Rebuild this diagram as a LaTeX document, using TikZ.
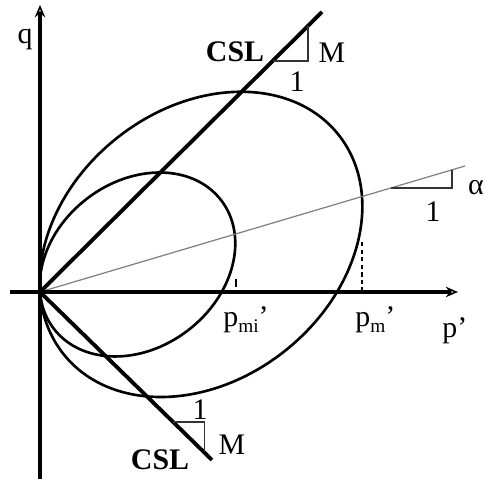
\documentclass[tikz,border=0pt]{standalone}
\usepackage{fontspec}
\setmainfont{Liberation Serif}
\usetikzlibrary{arrows.meta,calc}
\begin{document}
\begin{tikzpicture}[x=0.02cm,y=0.02cm,
  axis/.style={line width=2.4pt, -{Stealth[open,length=7pt,width=6pt,line width=0.9pt]}},
  csl/.style={line width=2.2pt},
  yield/.style={line width=1.5pt},
  aline/.style={line width=0.7pt, gray},
  slope/.style={line width=0.8pt, black!80},
  guide/.style={line width=0.8pt, dash pattern=on 2.5pt off 1.8pt},
  lab/.style={font=\fontsize{17}{17}\selectfont, inner sep=0pt},
  bold/.style={font=\fontsize{17}{17}\selectfont\bfseries, inner sep=0pt}]
\useasboundingbox (-40,-187) rectangle (445,292);
% coordinates
\coordinate (O) at (0,0);
\coordinate (qtop) at (0,287);
\coordinate (qbot) at (0,-187);
\coordinate (pleft) at (-30,0);
\coordinate (pright) at (418,0);
\coordinate (C1) at (282,280);
\coordinate (C2) at (172,-168);
\coordinate (A) at (425,126);
\coordinate (EL) at (161,47.6);
\coordinate (ES) at (97.5,27.5);
% yield surfaces
\draw[yield, rotate around={38.7:(EL)}] (EL) ellipse [x radius=175.9, y radius=135.6];
\draw[yield, rotate around={37.5:(ES)}] (ES) ellipse [x radius=105.5, y radius=83];
% guides
\coordinate (gL1) at (322,50);
\coordinate (gL0) at (322,0);
\draw[guide] (gL1) -- (gL0);
\coordinate (gS1) at (196,13);
\coordinate (gS0) at (196,5);
\draw[line width=0.8pt] (gS1) -- (gS0);
% alpha line
\draw[aline] (O) -- (A);
\coordinate (Ta) at ($(O)!0.825!(A)$);
\coordinate (Tc) at ($(O)!0.969!(A)$);
\coordinate (Tb) at (Tc |- Ta);
\draw[slope] (Ta) -- (Tb) -- (Tc);
% CSL lines
\draw[csl] (O) -- (C1);
\draw[csl] (O) -- (C2);
\coordinate (T1a) at ($(O)!0.825!(C1)$);
\coordinate (T1c) at ($(O)!0.950!(C1)$);
\coordinate (T1b) at (T1c |- T1a);
\draw[slope] (T1a) -- (T1b) -- (T1c);
\coordinate (T2a) at ($(O)!0.774!(C2)$);
\coordinate (T2c) at ($(O)!0.955!(C2)$);
\coordinate (T2b) at (T2c |- T2a);
\draw[slope] (T2a) -- (T2b) -- (T2c);
% axes
\draw[axis] (qbot) -- (qtop);
\draw[axis] (pleft) -- (pright);
% labels
\node[lab] (lq) at (-15,252) {q};
\node[lab, anchor=base west] (lp) at (402,-46) {p'};
\node[lab, anchor=base west] (lpmi) at (183,-35) {p\raisebox{-3pt}{\fontsize{11}{11}\selectfont mi}'};
\node[lab, anchor=base west] (lpm) at (315,-35) {p\raisebox{-3pt}{\fontsize{11}{11}\selectfont m}'};
\node[bold] (csl1) at (195,240) {CSL};
\node[bold] (csl2) at (120,-168) {CSL};
\node[lab] (M1) at (292,239) {M};
\node[lab] (M2) at (192,-153) {M};
\node[lab] (one1) at (257,210) {1};
\node[lab] (one2) at (160,-118) {1};
\node[lab] (one3) at (393,80) {1};
\node[lab] (al) at (436,104) {α};
\end{tikzpicture}
\end{document}
